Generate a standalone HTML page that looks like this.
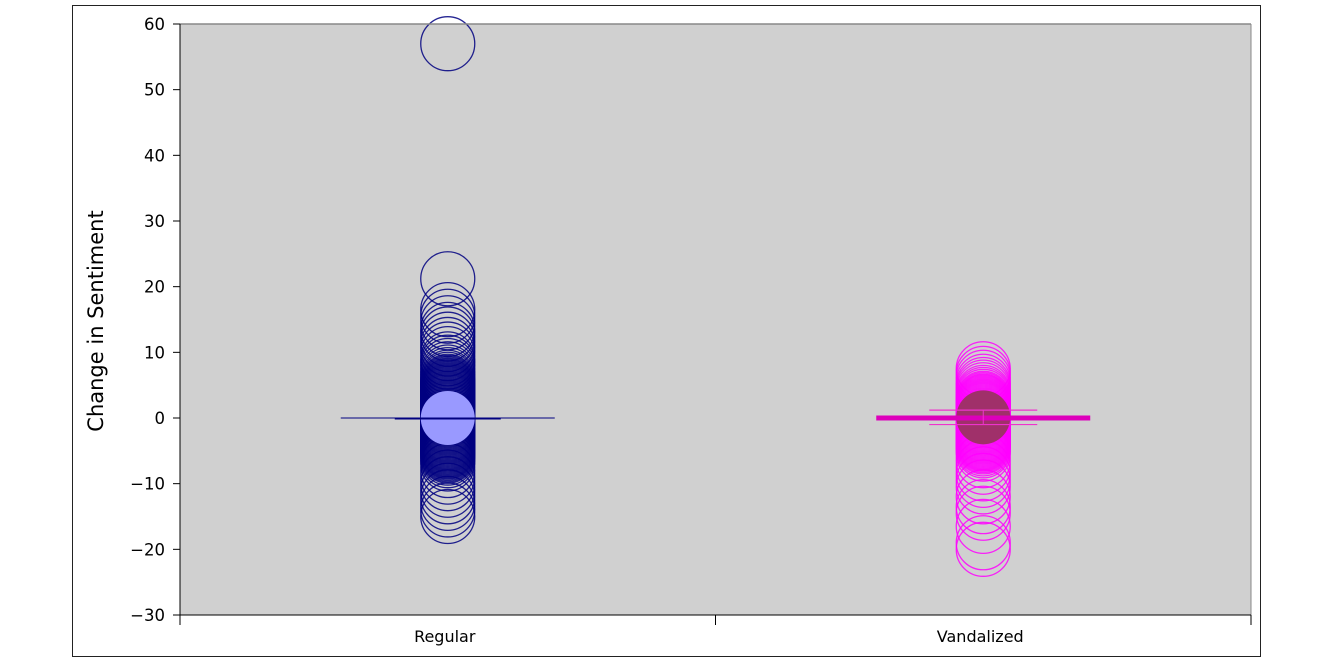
<!DOCTYPE html>
<html><head><meta charset="utf-8"><style>
html,body{margin:0;padding:0;background:#fff;width:1322px;height:668px;overflow:hidden}
svg{display:block;font-family:"DejaVu Sans","Liberation Sans",sans-serif}
</style></head><body>
<svg id="chart" width="1322" height="668">
<rect x="72.5" y="5.5" width="1188" height="651" fill="#fff" stroke="#222"/>
<rect x="180" y="24" width="1071" height="591" fill="#d0d0d0"/>
<g id="marks"></g>
<line x1="180" y1="24" x2="1251" y2="24" stroke="#888" stroke-width="1.5"/>
<line x1="1251" y1="24" x2="1251" y2="615" stroke="#888" stroke-width="1"/>
<line x1="180" y1="24" x2="180" y2="615" stroke="#000" stroke-width="1"/>
<line x1="180" y1="615" x2="1251" y2="615" stroke="#000" stroke-width="1"/>
<g id="axes"></g>
<text x="0" y="0" transform="translate(103,321) rotate(-90)" text-anchor="middle" font-size="21" fill="#000">Change in Sentiment</text>
</svg>
<script>
const categories = ["Regular", "Vandalized"];
const yTicks = [60, 50, 40, 30, 20, 10, 0, -10, -20, -30];
const regularValues = [57, 21.2, 16.5, 15.5, 14.5, 13.5, 12.8, 12, 11.2, 10.5, 9.8, 9, 8.5, 8, 7.5, 7, 6.6, 6.2, 5.9, 5.6, 5.4, 5.2, 5.0, 4.85, 4.7, 4.55, 4.4, 4.25, 4.1, 3.95, 3.8, 3.65, 3.5, 3.35, 3.2, 3.05, 2.9, 2.75, 2.6, 2.45, 2.3, 2.15, 2.0, 1.85, 1.7, 1.55, 1.4, 1.25, 1.1, 0.95, 0.8, 0.65, 0.5, 0.35, 0.2, 0.05, -0.1, -0.25, -0.4, -0.55, -0.7, -0.85, -1.0, -1.15, -1.3, -1.45, -1.6, -1.75, -1.9, -2.05, -2.2, -2.35, -2.5, -2.65, -2.8, -2.95, -3.1, -3.25, -3.4, -3.55, -3.7, -3.85, -4.0, -4.15, -4.3, -4.45, -4.6, -4.75, -4.9, -5.05, -5.2, -5.4, -5.6, -5.8, -6.1, -6.5, -7, -8, -9, -10, -11, -12, -13, -14, -15];
const vandalValues = [7.5, 6.8, 6.2, 5.6, 5.1, 4.7, 4.3, 3.9, 3.6, 3.3, 3.0, 2.8, 2.6, 2.45, 2.3, 2.15, 2.0, 1.85, 1.7, 1.55, 1.4, 1.25, 1.1, 0.95, 0.8, 0.65, 0.5, 0.35, 0.2, 0.05, -0.1, -0.25, -0.4, -0.55, -0.7, -0.85, -1.0, -1.15, -1.3, -1.45, -1.6, -1.75, -1.9, -2.05, -2.2, -2.35, -2.5, -2.65, -2.8, -2.95, -3.1, -3.25, -3.4, -3.55, -3.7, -3.85, -4.0, -4.2, -4.4, -4.7, -5.0, -5.5, -6.5, -7.5, -8.5, -9.5, -10.5, -12, -13.5, -14.5, -16.5, -19, -20];
const means = [0, 0.1];
const errHalf = [0, 1.1];

const NS = "http://www.w3.org/2000/svg";
const y0 = 24, y1 = 615, vmax = 60, vmin = -30;
function yScale(v){ return y0 + (vmax - v) / (vmax - vmin) * (y1 - y0); }
const xl = 180, xr = 1251;
function xScale(i){ return xl + (xr - xl) * (i + 0.5) / categories.length; }
const R = 27;
function mk(tag, attrs, parent){ const e = document.createElementNS(NS, tag); for (const k in attrs) e.setAttribute(k, attrs[k]); parent.appendChild(e); return e; }
const marks = document.getElementById("marks");
const axes = document.getElementById("axes");

const series = [regularValues, vandalValues];
const colors = ["#000080", "#ff00ff"];
const meanFill = ["#9999ff", "#a0306a"];
series.forEach((vals, si) => {
  const cx = xScale(si);
  vals.forEach((v, i) => {
    const c = mk("circle", {cx: cx, cy: yScale(v), r: R, fill: "none", stroke: colors[si], "stroke-width": 1.3, "stroke-opacity": 0.85}, marks);
    
    
  });
  const m = mk("circle", {cx: cx, cy: yScale(means[si]), r: R, fill: meanFill[si]}, marks);
  
  
  const l1 = mk("line", {x1: cx - 107, x2: cx + 107, y1: yScale(0), y2: yScale(0), stroke: si ? "#dd00bb" : "#000080", "stroke-width": si ? 5 : 1}, marks);
  
  
  if (si === 0) {
    const l2 = mk("line", {x1: cx - 53, x2: cx + 53, y1: yScale(0) + 0.5, y2: yScale(0) + 0.5, stroke: "#000080", "stroke-width": 2}, marks);
    
    
  } else {
    [errHalf[si], -errHalf[si]].forEach((d, k) => {
      const e = mk("line", {x1: cx - 54, x2: cx + 54, y1: yScale(means[si] + d), y2: yScale(means[si] + d), stroke: "#ee33cc", "stroke-width": 1.2}, marks);
      
      
    });
    const ev = mk("line", {x1: cx, x2: cx, y1: yScale(means[si] + errHalf[si]), y2: yScale(means[si] - errHalf[si]), stroke: "#ee33cc", "stroke-width": 1}, marks);
    
    
  }
});

yTicks.forEach(t => {
  const y = yScale(t);
  mk("line", {x1: 173, x2: 180, y1: y, y2: y, stroke: "#000"}, axes);
  const tx = mk("text", {x: 165, y: y + 6, "text-anchor": "end", "font-size": 16.5, fill: "#000"}, axes);
  tx.textContent = String(t).replace("-", "\u2212");
  
  
});
[0, 0.5, 1].forEach(f => {
  const x = xl + (xr - xl) * f;
  mk("line", {x1: x, x2: x, y1: 615, y2: 625, stroke: "#000"}, axes);
});
categories.forEach((c, i) => {
  const tx = mk("text", {x: xScale(i) - 3, y: 642, "text-anchor": "middle", "font-size": 16, fill: "#000"}, axes);
  tx.textContent = c;
  
  
});
</script>
</body></html>
